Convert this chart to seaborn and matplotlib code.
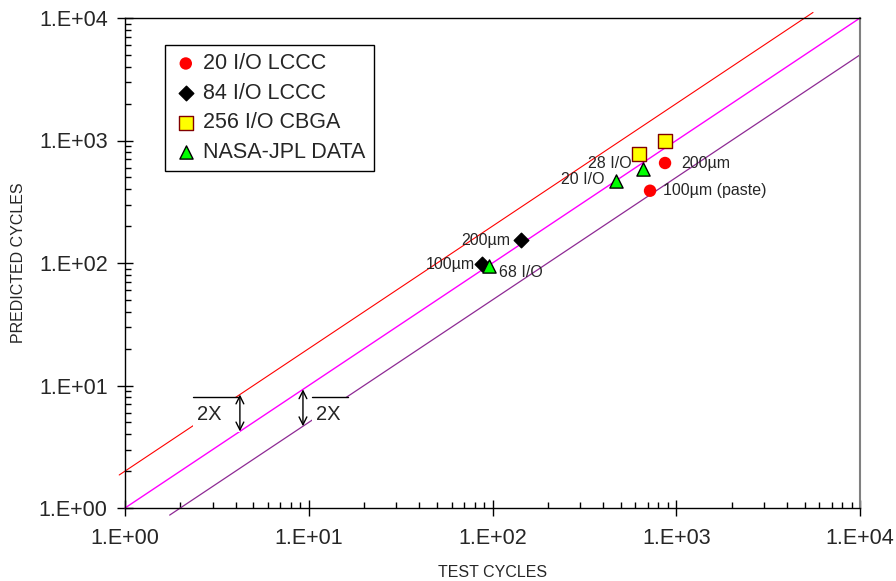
import numpy as np
import pandas as pd
import seaborn as sns
import matplotlib
matplotlib.use("Agg")
import matplotlib.pyplot as plt
from matplotlib.ticker import FixedLocator, FuncFormatter, LogLocator, NullFormatter
from matplotlib.patches import Rectangle

# ---- data ----
series_names = ["20 I/O LCCC", "84 I/O LCCC", "256 I/O CBGA", "NASA-JPL DATA"]
lccc20_test = [869, 720]
lccc20_pred = [655, 389]
lccc84_test = [143, 88]
lccc84_pred = [154, 98]
cbga_test = [871, 627]
cbga_pred = [991, 771]
jpl_test = [659, 470, 96]
jpl_pred = [582, 464, 95]

ratio_factors = [2.0, 1.0, 0.5]
ratio_x_ranges = [[0.93, 5550.0], [1.0, 10000.0], [1.75, 10000.0]]

point_labels = ["200\u00b5m", "100\u00b5m (paste)", "28 I/O", "20 I/O",
                "200\u00b5m", "100\u00b5m", "68 I/O"]
tick_values = [1, 10, 100, 1000, 10000]
tick_labels = ["1.E+00", "1.E+01", "1.E+02", "1.E+03", "1.E+04"]

df = pd.DataFrame({
    "test": lccc20_test + lccc84_test + cbga_test + jpl_test,
    "pred": lccc20_pred + lccc84_pred + cbga_pred + jpl_pred,
    "series": [series_names[0]] * 2 + [series_names[1]] * 2
              + [series_names[2]] * 2 + [series_names[3]] * 3,
})

sns.set_theme(style="white")
plt.rcParams["font.family"] = ["Liberation Sans", "DejaVu Sans"]

fig = plt.figure(figsize=(8.96, 5.81), dpi=100)
ax = fig.add_axes([125 / 896, 73 / 581, 735 / 896, 490 / 581])
ax.set_xscale("log")
ax.set_yscale("log")
ax.set_xlim(1, 10000)
ax.set_ylim(1, 10000)

# reference lines
line_colors = ["#FF0000", "#FF00FF", "#8E2A94"]
line_widths = [0.8, 1.0, 0.9]
for f, xr, c, lw in zip(ratio_factors, ratio_x_ranges, line_colors, line_widths):
    xs = np.array(xr)
    sns.lineplot(x=xs, y=xs * f, ax=ax, color=c, lw=lw, zorder=2)
for l in ax.lines:
    l.set_clip_on(False)

styles = {
    series_names[0]: dict(marker="o", color="#FF0000", edgecolor="none", s=80),
    series_names[1]: dict(marker="D", color="black", edgecolor="black", s=55),
    series_names[2]: dict(marker="s", color="#FFFF00", edgecolor="#800000", s=90),
    series_names[3]: dict(marker="^", color="#00FF00", edgecolor="black", s=90),
}
for name in series_names:
    sub = df[df["series"] == name]
    st = styles[name]
    sns.scatterplot(data=sub, x="test", y="pred", ax=ax, marker=st["marker"],
                    color=st["color"], edgecolor=st["edgecolor"], s=st["s"],
                    linewidth=1.0, label=name, zorder=5)

# point annotations
ann = [
    (lccc20_test[0], lccc20_pred[0], point_labels[0], (12, 0), "left"),
    (lccc20_test[1], lccc20_pred[1], point_labels[1], (9, 0), "left"),
    (jpl_test[0], jpl_pred[0], point_labels[2], (-8, 4), "right"),
    (jpl_test[1], jpl_pred[1], point_labels[3], (-8, 1), "right"),
    (lccc84_test[0], lccc84_pred[0], point_labels[4], (-8, 0), "right"),
    (lccc84_test[1], lccc84_pred[1], point_labels[5], (-5, 0), "right"),
    (jpl_test[2], jpl_pred[2], point_labels[6], (7, -5), "left"),
]
for x, y, t, off, ha in ann:
    ax.annotate(t, (x, y), xytext=off, textcoords="offset points", ha=ha,
                va="center", fontsize=11.5, zorder=6)

# 2X boxes with arrows
def xbox(x0, x1, tx):
    ax.add_patch(Rectangle((x0, 4.17), x1 - x0, 8.06 - 4.17, facecolor="white",
                           edgecolor="none", zorder=3))
    ax.plot([x0, x1], [8.06, 8.06], color="black", lw=1.0, zorder=4)
    ax.text(tx, 5.75, "2X", fontsize=14.5, va="center", ha="left", zorder=4)

xbox(2.34, 4.22, 2.45)
xbox(10.4, 16.4, 10.9)
ax.annotate("", xy=(4.22, 4.22), xytext=(4.22, 8.44),
            arrowprops=dict(arrowstyle="<->", color="black", lw=1.0,
                            shrinkA=0, shrinkB=0, mutation_scale=14), zorder=6)
ax.annotate("", xy=(9.3, 4.65), xytext=(9.3, 9.3),
            arrowprops=dict(arrowstyle="<->", color="black", lw=1.0,
                            shrinkA=0, shrinkB=0, mutation_scale=14), zorder=6)

# ticks
def fmt(v, p):
    iv = int(round(v))
    return tick_labels[tick_values.index(iv)] if iv in tick_values else ""

for axis in (ax.xaxis, ax.yaxis):
    axis.set_major_locator(FixedLocator(tick_values))
    axis.set_major_formatter(FuncFormatter(fmt))
    axis.set_minor_locator(LogLocator(base=10, subs=np.arange(2, 10)))
    axis.set_minor_formatter(NullFormatter())
ax.tick_params(which="major", direction="inout", length=11, width=1.0,
               color="black", labelsize=15.5)
ax.tick_params(which="minor", direction="in", length=4, width=1.0, color="black")
ax.tick_params(axis="x", which="major", pad=9)
ax.tick_params(axis="y", which="major", pad=7)
ax.xaxis.set_ticks_position("bottom")
ax.yaxis.set_ticks_position("left")

for side in ["left", "bottom", "top"]:
    ax.spines[side].set_color("black")
    ax.spines[side].set_linewidth(1.0)
ax.spines["right"].set_color("#808080")
ax.spines["right"].set_linewidth(1.5)

ax.set_xlabel("TEST CYCLES", fontsize=11.5)
ax.set_ylabel("PREDICTED CYCLES", fontsize=11.5)
ax.xaxis.set_label_coords(0.5, -0.116)
ax.yaxis.set_label_coords(-0.1347, 0.5)

leg = ax.legend(loc="upper left", bbox_to_anchor=(0.054, 0.945), fontsize=15.5,
                frameon=True, fancybox=False, edgecolor="black", framealpha=1,
                handletextpad=0.2, handlelength=1.2, borderpad=0.38,
                labelspacing=0.4, borderaxespad=0)
leg.get_frame().set_linewidth(1.0)

fig.savefig("out.png", dpi=100)
